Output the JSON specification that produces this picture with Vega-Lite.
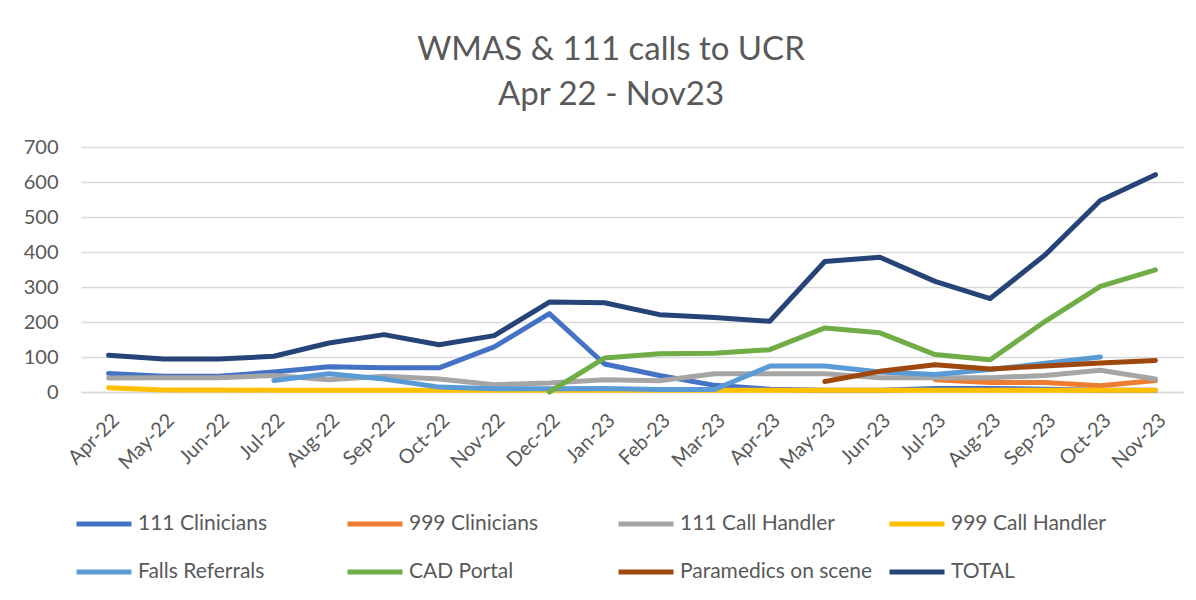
{
  "$schema": "https://vega.github.io/schema/vega-lite/v6.json",
  "width": 1102,
  "height": 245,
  "autosize": "none",
  "padding": {"left": 81, "top": 147, "right": 13, "bottom": 208},
  "background": "white",
  "title": {
    "text": ["WMAS & 111 calls  to UCR", "Apr 22 - Nov23"],
    "font": "Lato",
    "fontSize": 33,
    "fontWeight": "normal",
    "color": "#595959",
    "lineHeight": 45,
    "anchor": "middle",
    "dx": -21,
    "offset": 25
  },
  "config": {
    "view": {"stroke": null},
    "font": "Lato"
  },
  "data": {
    "values": [
      {"m": "Apr-22", "s": "111 Clinicians", "v": 53},
      {"m": "May-22", "s": "111 Clinicians", "v": 45},
      {"m": "Jun-22", "s": "111 Clinicians", "v": 45},
      {"m": "Jul-22", "s": "111 Clinicians", "v": 57},
      {"m": "Aug-22", "s": "111 Clinicians", "v": 72},
      {"m": "Sep-22", "s": "111 Clinicians", "v": 69},
      {"m": "Oct-22", "s": "111 Clinicians", "v": 69},
      {"m": "Nov-22", "s": "111 Clinicians", "v": 129},
      {"m": "Dec-22", "s": "111 Clinicians", "v": 224},
      {"m": "Jan-23", "s": "111 Clinicians", "v": 80},
      {"m": "Feb-23", "s": "111 Clinicians", "v": 47},
      {"m": "Mar-23", "s": "111 Clinicians", "v": 19},
      {"m": "Apr-23", "s": "111 Clinicians", "v": 8},
      {"m": "May-23", "s": "111 Clinicians", "v": 5},
      {"m": "Jun-23", "s": "111 Clinicians", "v": 5},
      {"m": "Jul-23", "s": "111 Clinicians", "v": 10},
      {"m": "Aug-23", "s": "111 Clinicians", "v": 10},
      {"m": "Sep-23", "s": "111 Clinicians", "v": 8},
      {"m": "Oct-23", "s": "111 Clinicians", "v": 5},
      {"m": "Nov-23", "s": "111 Clinicians", "v": 5},

      {"m": "Jul-23", "s": "999 Clinicians", "v": 35},
      {"m": "Aug-23", "s": "999 Clinicians", "v": 27},
      {"m": "Sep-23", "s": "999 Clinicians", "v": 27},
      {"m": "Oct-23", "s": "999 Clinicians", "v": 18},
      {"m": "Nov-23", "s": "999 Clinicians", "v": 33},

      {"m": "Apr-22", "s": "111 Call Handler", "v": 40},
      {"m": "May-22", "s": "111 Call Handler", "v": 41},
      {"m": "Jun-22", "s": "111 Call Handler", "v": 41},
      {"m": "Jul-22", "s": "111 Call Handler", "v": 47},
      {"m": "Aug-22", "s": "111 Call Handler", "v": 35},
      {"m": "Sep-22", "s": "111 Call Handler", "v": 45},
      {"m": "Oct-22", "s": "111 Call Handler", "v": 37},
      {"m": "Nov-22", "s": "111 Call Handler", "v": 21},
      {"m": "Dec-22", "s": "111 Call Handler", "v": 26},
      {"m": "Jan-23", "s": "111 Call Handler", "v": 35},
      {"m": "Feb-23", "s": "111 Call Handler", "v": 32},
      {"m": "Mar-23", "s": "111 Call Handler", "v": 52},
      {"m": "Apr-23", "s": "111 Call Handler", "v": 52},
      {"m": "May-23", "s": "111 Call Handler", "v": 52},
      {"m": "Jun-23", "s": "111 Call Handler", "v": 41},
      {"m": "Jul-23", "s": "111 Call Handler", "v": 41},
      {"m": "Aug-23", "s": "111 Call Handler", "v": 41},
      {"m": "Sep-23", "s": "111 Call Handler", "v": 47},
      {"m": "Oct-23", "s": "111 Call Handler", "v": 62},
      {"m": "Nov-23", "s": "111 Call Handler", "v": 37},

      {"m": "Apr-22", "s": "999 Call Handler", "v": 12},
      {"m": "May-22", "s": "999 Call Handler", "v": 6},
      {"m": "Jun-22", "s": "999 Call Handler", "v": 6},
      {"m": "Jul-22", "s": "999 Call Handler", "v": 5},
      {"m": "Aug-22", "s": "999 Call Handler", "v": 5},
      {"m": "Sep-22", "s": "999 Call Handler", "v": 5},
      {"m": "Oct-22", "s": "999 Call Handler", "v": 5},
      {"m": "Nov-22", "s": "999 Call Handler", "v": 5},
      {"m": "Dec-22", "s": "999 Call Handler", "v": 5},
      {"m": "Jan-23", "s": "999 Call Handler", "v": 5},
      {"m": "Feb-23", "s": "999 Call Handler", "v": 5},
      {"m": "Mar-23", "s": "999 Call Handler", "v": 5},
      {"m": "Apr-23", "s": "999 Call Handler", "v": 5},
      {"m": "May-23", "s": "999 Call Handler", "v": 5},
      {"m": "Jun-23", "s": "999 Call Handler", "v": 5},
      {"m": "Jul-23", "s": "999 Call Handler", "v": 5},
      {"m": "Aug-23", "s": "999 Call Handler", "v": 5},
      {"m": "Sep-23", "s": "999 Call Handler", "v": 5},
      {"m": "Oct-23", "s": "999 Call Handler", "v": 5},
      {"m": "Nov-23", "s": "999 Call Handler", "v": 5},

      {"m": "Jul-22", "s": "Falls Referrals", "v": 33},
      {"m": "Aug-22", "s": "Falls Referrals", "v": 52},
      {"m": "Sep-22", "s": "Falls Referrals", "v": 37},
      {"m": "Oct-22", "s": "Falls Referrals", "v": 14},
      {"m": "Nov-22", "s": "Falls Referrals", "v": 9},
      {"m": "Dec-22", "s": "Falls Referrals", "v": 9},
      {"m": "Jan-23", "s": "Falls Referrals", "v": 10},
      {"m": "Feb-23", "s": "Falls Referrals", "v": 7},
      {"m": "Mar-23", "s": "Falls Referrals", "v": 7},
      {"m": "Apr-23", "s": "Falls Referrals", "v": 74},
      {"m": "May-23", "s": "Falls Referrals", "v": 74},
      {"m": "Jun-23", "s": "Falls Referrals", "v": 57},
      {"m": "Jul-23", "s": "Falls Referrals", "v": 50},
      {"m": "Aug-23", "s": "Falls Referrals", "v": 64},
      {"m": "Sep-23", "s": "Falls Referrals", "v": 82},
      {"m": "Oct-23", "s": "Falls Referrals", "v": 100},

      {"m": "Dec-22", "s": "CAD Portal", "v": 0},
      {"m": "Jan-23", "s": "CAD Portal", "v": 97},
      {"m": "Feb-23", "s": "CAD Portal", "v": 109},
      {"m": "Mar-23", "s": "CAD Portal", "v": 111},
      {"m": "Apr-23", "s": "CAD Portal", "v": 121},
      {"m": "May-23", "s": "CAD Portal", "v": 183},
      {"m": "Jun-23", "s": "CAD Portal", "v": 169},
      {"m": "Jul-23", "s": "CAD Portal", "v": 107},
      {"m": "Aug-23", "s": "CAD Portal", "v": 92},
      {"m": "Sep-23", "s": "CAD Portal", "v": 202},
      {"m": "Oct-23", "s": "CAD Portal", "v": 302},
      {"m": "Nov-23", "s": "CAD Portal", "v": 349},

      {"m": "May-23", "s": "Paramedics on scene", "v": 30},
      {"m": "Jun-23", "s": "Paramedics on scene", "v": 59},
      {"m": "Jul-23", "s": "Paramedics on scene", "v": 78},
      {"m": "Aug-23", "s": "Paramedics on scene", "v": 66},
      {"m": "Sep-23", "s": "Paramedics on scene", "v": 74},
      {"m": "Oct-23", "s": "Paramedics on scene", "v": 83},
      {"m": "Nov-23", "s": "Paramedics on scene", "v": 90},

      {"m": "Apr-22", "s": "TOTAL", "v": 105},
      {"m": "May-22", "s": "TOTAL", "v": 94},
      {"m": "Jun-22", "s": "TOTAL", "v": 94},
      {"m": "Jul-22", "s": "TOTAL", "v": 102},
      {"m": "Aug-22", "s": "TOTAL", "v": 140},
      {"m": "Sep-22", "s": "TOTAL", "v": 164},
      {"m": "Oct-22", "s": "TOTAL", "v": 135},
      {"m": "Nov-22", "s": "TOTAL", "v": 161},
      {"m": "Dec-22", "s": "TOTAL", "v": 257},
      {"m": "Jan-23", "s": "TOTAL", "v": 255},
      {"m": "Feb-23", "s": "TOTAL", "v": 221},
      {"m": "Mar-23", "s": "TOTAL", "v": 213},
      {"m": "Apr-23", "s": "TOTAL", "v": 202},
      {"m": "May-23", "s": "TOTAL", "v": 373},
      {"m": "Jun-23", "s": "TOTAL", "v": 385},
      {"m": "Jul-23", "s": "TOTAL", "v": 316},
      {"m": "Aug-23", "s": "TOTAL", "v": 267},
      {"m": "Sep-23", "s": "TOTAL", "v": 392},
      {"m": "Oct-23", "s": "TOTAL", "v": 547},
      {"m": "Nov-23", "s": "TOTAL", "v": 621}
    ]
  },
  "mark": {"type": "line", "strokeWidth": 5, "strokeCap": "round", "strokeJoin": "round"},
  "encoding": {
    "x": {
      "field": "m",
      "type": "ordinal",
      "sort": ["Apr-22","May-22","Jun-22","Jul-22","Aug-22","Sep-22","Oct-22","Nov-22","Dec-22","Jan-23","Feb-23","Mar-23","Apr-23","May-23","Jun-23","Jul-23","Aug-23","Sep-23","Oct-23","Nov-23"],
      "scale": {"type": "point", "padding": 0.5},
      "axis": {
        "title": null,
        "labelAngle": -45,
        "labelFontSize": 20,
        "labelColor": "#595959",
        "labelPadding": 18,
        "ticks": false,
        "domainColor": "#D9D9D9",
        "domainWidth": 1.5,
        "grid": false
      }
    },
    "y": {
      "field": "v",
      "type": "quantitative",
      "scale": {"domain": [0, 700], "nice": false},
      "axis": {
        "title": null,
        "values": [0,100,200,300,400,500,600,700],
        "labelFontSize": 20,
        "labelColor": "#595959",
        "labelPadding": 23,
        "ticks": false,
        "domain": false,
        "gridColor": "#D9D9D9",
        "gridWidth": 1.5
      }
    },
    "color": {
      "field": "s",
      "type": "nominal",
      "scale": {
        "domain": ["111 Clinicians","999 Clinicians","111 Call Handler","999 Call Handler","Falls Referrals","CAD Portal","Paramedics on scene","TOTAL"],
        "range": ["#4472C4","#ED7D31","#A5A5A5","#FFC000","#5B9BD5","#70AD47","#9E480E","#264478"]
      },
      "legend": {
        "title": null,
        "orient": "none",
        "legendX": -7,
        "legendY": 347,
        "direction": "horizontal",
        "columns": 4,
        "gridAlign": "all",
        "columnPadding": 6,
        "rowPadding": 8,
        "symbolType": "stroke",
        "symbolSize": 3025,
        "symbolStrokeWidth": 5,
        "labelOffset": 4,
        "labelFontSize": 21,
        "labelColor": "#595959",
        "labelLimit": 400
      }
    }
  }
}
